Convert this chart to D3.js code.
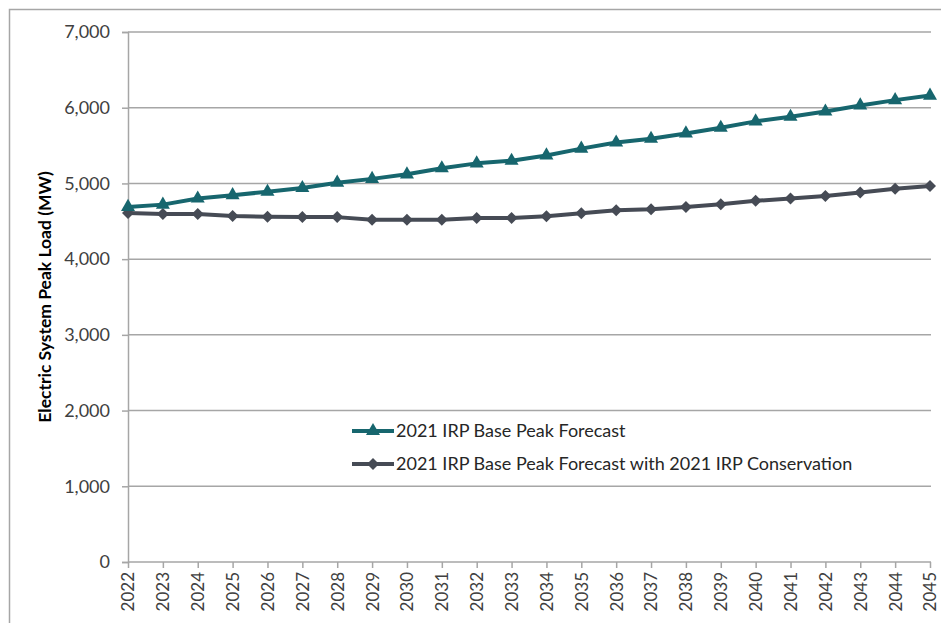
<!DOCTYPE html>
<html>
<head>
<meta charset="utf-8">
<script src="https://cdn.jsdelivr.net/npm/d3@7"></script>
<style>
  html, body { margin: 0; padding: 0; background: #fff; }
  svg { display: block; font-family: Lato, "Open Sans", sans-serif; }
</style>
</head>
<body>
<svg id="chart" width="941" height="623"></svg>
<script>
// Years on the category axis
const years = [2022, 2023, 2024, 2025, 2026, 2027, 2028, 2029, 2030, 2031, 2032, 2033,
               2034, 2035, 2036, 2037, 2038, 2039, 2040, 2041, 2042, 2043, 2044, 2045];

// Peak load forecasts (MW)
const basePeak = [4690, 4720, 4800, 4845, 4890, 4940, 5010, 5060, 5120, 5200, 5265, 5300,
                  5370, 5460, 5540, 5590, 5660, 5735, 5820, 5880, 5950, 6030, 6100, 6160];
const basePeakWithConservation = [4610, 4595, 4595, 4570, 4560, 4555, 4555, 4520, 4520, 4520, 4545, 4545,
                                  4565, 4605, 4645, 4660, 4690, 4725, 4770, 4800, 4835, 4880, 4930, 4965];

const seriesNames = ["2021 IRP Base Peak Forecast",
                     "2021 IRP Base Peak Forecast with 2021 IRP Conservation"];
const yTicks = [0, 1000, 2000, 3000, 4000, 5000, 6000, 7000];
const yTitle = "Electric System Peak Load (MW)";

const svg = d3.select("#chart");
const gridColor = "#a6a6a6";
const tealColor = "#17666e";
const slateColor = "#464b55";

// Outer frame (left and top edges visible)
svg.append("rect")
  .attr("x", 9.5).attr("y", 9.5)
  .attr("width", 1000).attr("height", 1000)
  .attr("fill", "none").attr("stroke", gridColor).attr("stroke-width", 1.5);

const plotLeft = 128, plotRight = 930, plotTop = 32, plotBottom = 562;

const x = d3.scalePoint().domain(years).range([plotLeft, plotRight]);
const y = d3.scaleLinear().domain([0, 7000]).range([plotBottom, plotTop]);

// Horizontal gridlines
svg.append("g").selectAll("line").data(yTicks.filter(d => d > 0)).join("line")
  .attr("x1", plotLeft).attr("x2", 931)
  .attr("y1", d => y(d)).attr("y2", d => y(d))
  .attr("stroke", gridColor).attr("stroke-width", 1.5);

// Y axis
const yAxis = svg.append("g")
  .attr("transform", `translate(${plotLeft},0)`)
  .call(d3.axisLeft(y).tickValues(yTicks).tickFormat(d3.format(",")).tickSize(6).tickPadding(12));
yAxis.select(".domain").attr("stroke", gridColor).attr("stroke-width", 1.5);
yAxis.selectAll(".tick line").attr("stroke", gridColor).attr("stroke-width", 1.5);
yAxis.selectAll(".tick text")
  .attr("fill", "#404040").style("font-size", "18px").style("font-family", "Lato, sans-serif");

// X axis
const xAxis = svg.append("g")
  .attr("transform", `translate(0,${plotBottom})`)
  .call(d3.axisBottom(x).tickSize(6).tickSizeOuter(0));
xAxis.select(".domain").attr("stroke", gridColor).attr("stroke-width", 1.5)
  .attr("d", `M${plotLeft},0H931`);
xAxis.selectAll(".tick line").attr("stroke", gridColor).attr("stroke-width", 1.5);
xAxis.selectAll(".tick text")
  .attr("fill", "#404040")
  .style("font-size", "17px").style("font-family", "Lato, sans-serif")
  .attr("transform", "rotate(-90)")
  .attr("text-anchor", "end")
  .attr("dy", "0.35em")
  .attr("x", -10).attr("y", 0);

// Y axis title
svg.append("text")
  .attr("transform", `translate(51,${(plotTop + plotBottom) / 2}) rotate(-90)`)
  .attr("text-anchor", "middle")
  .style("font-size", "17.5px").style("font-weight", "bold")
  .attr("fill", "#000")
  .text(yTitle);

// Series: triangles for the base forecast, diamonds (rotated squares) for the conservation case
const series = [
  { name: seriesNames[0], values: basePeak, color: tealColor, symbol: d3.symbolTriangle, size: 85, rot: 0 },
  { name: seriesNames[1], values: basePeakWithConservation, color: slateColor, symbol: d3.symbolSquare, size: 72, rot: 45 }
];

const line = d3.line().x((d, i) => x(years[i])).y(d => y(d));

// draw the conservation line first so the base forecast sits on top
[series[1], series[0]].forEach(s => {
  svg.append("path")
    .datum(s.values)
    .attr("d", line)
    .attr("fill", "none")
    .attr("stroke", s.color)
    .attr("stroke-width", 4)
    .attr("stroke-linejoin", "round");
  svg.append("g").selectAll("path").data(s.values).join("path")
    .attr("transform", (d, i) => `translate(${x(years[i])},${y(d)}) rotate(${s.rot})`)
    .attr("d", d3.symbol().type(s.symbol).size(s.size))
    .attr("fill", s.color);
});

// Legend
const legend = svg.append("g");
series.forEach((s, i) => {
  const ly = 431 + i * 33;
  legend.append("line")
    .attr("x1", 352).attr("x2", 394).attr("y1", ly).attr("y2", ly)
    .attr("stroke", s.color).attr("stroke-width", 4);
  legend.append("path")
    .attr("transform", `translate(373,${ly}) rotate(${s.rot})`)
    .attr("d", d3.symbol().type(s.symbol).size(s.size))
    .attr("fill", s.color);
  legend.append("text")
    .attr("x", 396).attr("y", ly).attr("dy", "0.35em")
    .attr("fill", "#262626")
    .style("font-size", "18px")
    .text(s.name);
});
</script>
</body>
</html>
